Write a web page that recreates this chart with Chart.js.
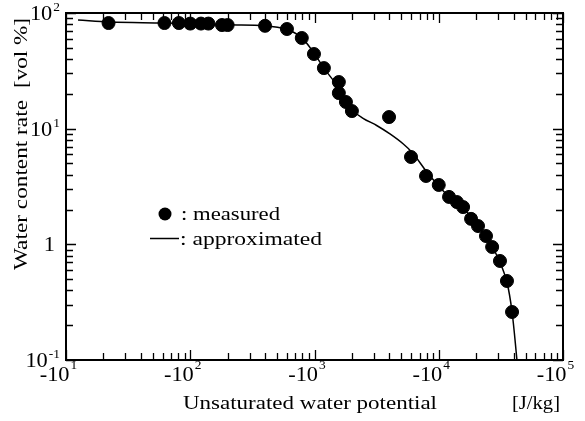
<!DOCTYPE html>
<html>
<head>
<meta charset="utf-8">
<title>Water content rate</title>
<script src="https://cdn.jsdelivr.net/npm/chart.js@4"></script>
<style>
	body { margin: 0; background: #fff; }
	#box { width: 585px; height: 421px; }
</style>
</head>
<body>
<div id="box"><canvas id="chart" width="585" height="421"></canvas></div>
<script>
// Measured points: potential is shown as -|x| on the axis
const measuredPotential = [22, 62, 81, 100, 122, 140, 180, 200, 400, 600, 790, 990, 1190, 1570, 1570,
	1790, 2000, 3980, 5980, 7900, 10000, 12100, 14000, 15700, 18200, 20700, 24000, 26900, 31100, 35400, 38900];
const measuredWater = [81.9, 81.9, 81.9, 81.0, 81.0, 81.0, 78.7, 78.7, 77.5, 72.7, 60.8, 44.2, 33.4, 25.3, 20.3,
	17.0, 14.2, 12.6, 5.69, 3.90, 3.26, 2.57, 2.32, 2.10, 1.66, 1.44, 1.18, 0.948, 0.718, 0.482, 0.260];

// Approximated curve
const approxPotential = [12.5, 22.6, 61.5, 120, 200, 400, 600, 790, 990, 1190, 1570, 2000, 2460, 3190, 4050,
	5160, 6210, 8040, 10000, 12100, 15700, 20700, 26900, 31100, 35400, 38900, 42600];
const approxWater = [87, 83.5, 82, 80.5, 79, 77.5, 72, 61, 45, 33.4, 22.5, 14.6, 12.3, 10.6, 9.0,
	7.4, 6.1, 4.2, 3.2, 2.57, 2.06, 1.44, 0.95, 0.70, 0.47, 0.26, 0.1];

// Axes
const xTickExps = [1, 2, 3, 4, 5];
const yTickValues = [0.1, 1, 10, 100];
const yTickBase = ["10", "1", "10", "10"];
const yTickSup = ["-1", "", "1", "2"];

const SERIF = "'Liberation Serif', 'Times New Roman', serif";

function drawText(ctx, text, x, y, size, sx, align) {
	ctx.save();
	ctx.font = size + "px " + SERIF;
	ctx.textAlign = align || "left";
	ctx.textBaseline = "alphabetic";
	let w = ctx.measureText(text).width * sx;
	ctx.translate(x, y);
	ctx.scale(sx, 1);
	ctx.fillText(text, 0, 0);
	ctx.restore();
	return w;
}

function textWidth(ctx, text, size) {
	ctx.font = size + "px " + SERIF;
	return ctx.measureText(text).width;
}

// stretch text so it fills a given width
function fitText(ctx, text, x, y, size, width) {
	let sx = width / textWidth(ctx, text, size);
	drawText(ctx, text, x, y, size, sx, "left");
}

const framePlugin = {
	id: "frame",
	afterDraw(chart) {
		const ctx = chart.ctx;
		const a = chart.chartArea;
		const xs = chart.scales.x, ys = chart.scales.y;
		ctx.save();
		ctx.fillStyle = "#000";
		ctx.strokeStyle = "#000";

		// ticks pointing inward on all four sides
		ctx.lineWidth = 1.3;
		ctx.beginPath();
		for (let e = 1; e <= 5; e++) {
			for (let k = 1; k <= 9; k++) {
				if (e == 5 && k > 1) break;
				let px = Math.round(xs.getPixelForValue(k * Math.pow(10, e))) + 0.5;
				let len = (k == 1) ? 10 : 7;
				ctx.moveTo(px, a.bottom); ctx.lineTo(px, a.bottom - len);
				ctx.moveTo(px, a.top); ctx.lineTo(px, a.top + len);
			}
		}
		for (let e = -1; e <= 2; e++) {
			for (let k = 1; k <= 9; k++) {
				if (e == 2 && k > 1) break;
				let py = Math.round(ys.getPixelForValue(k * Math.pow(10, e))) + 0.5;
				let len = (k == 1) ? 10 : 7;
				ctx.moveTo(a.left, py); ctx.lineTo(a.left + len, py);
				ctx.moveTo(a.right, py); ctx.lineTo(a.right - len, py);
			}
		}
		ctx.stroke();

		// frame
		ctx.lineWidth = 2;
		ctx.strokeRect(a.left, a.top, a.right - a.left, a.bottom - a.top);

		// x tick labels
		const sx = 1.12;
		xTickExps.forEach(e => {
			let px = xs.getPixelForValue(Math.pow(10, e));
			let wm = textWidth(ctx, "-10", 20) * sx;
			let ws = textWidth(ctx, String(e), 12) * sx;
			let start = px - 8 - (wm + ws) / 2;
			drawText(ctx, "-10", start, 381, 20, sx, "left");
			drawText(ctx, String(e), start + wm + 1, 369, 12, sx, "left");
		});

		// y tick labels
		yTickValues.forEach((v, i) => {
			let py = ys.getPixelForValue(v);
			if (yTickSup[i] == "") {
				drawText(ctx, yTickBase[i], 55, py + 7, 20, sx, "right");
			} else {
				let ws = textWidth(ctx, yTickSup[i], 12) * sx;
				drawText(ctx, yTickSup[i], 60, py - 2, 12, sx, "right");
				drawText(ctx, yTickBase[i], 60 - ws - 1, py + 7, 20, sx, "right");
			}
		});

		// axis titles
		fitText(ctx, "Unsaturated water potential", 183, 409, 19, 254);
		fitText(ctx, "[J/kg]", 512, 409, 19, 48);
		ctx.save();
		ctx.translate(27, 270);
		ctx.rotate(-Math.PI / 2);
		fitText(ctx, "Water content rate", 0, 0, 19, 170);
		fitText(ctx, "[vol %]", 182, 0, 19, 70);
		ctx.restore();

		// legend
		ctx.beginPath();
		ctx.arc(165, 214, 6.5, 0, 2 * Math.PI);
		ctx.fill();
		fitText(ctx, ": measured", 181, 220, 19, 99);
		ctx.lineWidth = 1.5;
		ctx.beginPath();
		ctx.moveTo(150, 238.5); ctx.lineTo(179, 238.5);
		ctx.stroke();
		fitText(ctx, ": approximated", 180, 245, 19, 142);

		ctx.restore();
	}
};

new Chart(document.getElementById("chart"), {
	type: "scatter",
	data: {
		datasets: [
			{
				label: "approximated",
				data: approxPotential.map((x, i) => ({ x: x, y: approxWater[i] })),
				showLine: true,
				borderColor: "#000",
				borderWidth: 1.5,
				pointRadius: 0,
				tension: 0.35,
				order: 2
			},
			{
				label: "measured",
				data: measuredPotential.map((x, i) => ({ x: x, y: measuredWater[i] })),
				pointRadius: 6.5,
				backgroundColor: "#000",
				borderColor: "#000",
				order: 1
			}
		]
	},
	options: {
		responsive: false,
		animation: false,
		events: [],
		layout: { padding: { left: 66, right: 22, top: 13, bottom: 61 } },
		plugins: { legend: { display: false }, tooltip: { enabled: false } },
		scales: {
			x: { type: "logarithmic", min: 10, max: 100000, display: false },
			y: { type: "logarithmic", min: 0.1, max: 100, display: false }
		}
	},
	plugins: [framePlugin]
});
</script>
</body>
</html>
